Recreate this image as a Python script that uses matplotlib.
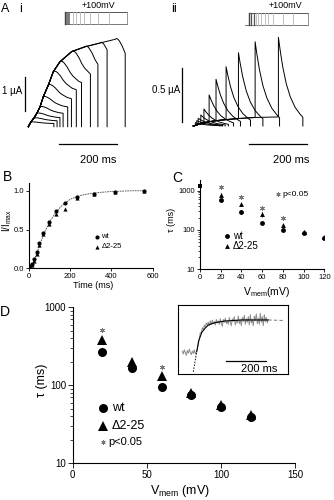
import numpy as np
import matplotlib
matplotlib.use('Agg')
import matplotlib.pyplot as plt
from matplotlib.lines import Line2D

plt.rcParams['font.family'] = ['Liberation Sans', 'DejaVu Sans']
plt.rcParams['mathtext.fontset'] = 'custom'
plt.rcParams['mathtext.rm'] = 'Liberation Sans'
plt.rcParams['mathtext.it'] = 'Liberation Sans:italic'

# ---------------- data ----------------
# A i : current at the end of each +100 mV pulse (ms, uA), tail after the pulse
ai_t_end = [9, 20, 30, 41, 52, 70, 87, 110, 151, 197, 249, 302]
ai_i_end = [0.14, 0.26, 0.40, 0.59, 0.88, 1.23, 1.62, 1.91, 2.21, 2.35, 2.46, 2.57]
ai_tail_len = [80, 80, 80, 80, 85, 80, 80, 75, 65, 45, 25, 35]
tail_dt = [0, 5, 10, 15, 20, 25, 30, 35, 40, 45, 50, 55, 60, 65, 70, 75, 80, 85, 90]
tail_frac = [1.0, 1.01, 1.0, 0.98, 0.95, 0.92, 0.88, 0.84, 0.81, 0.78, 0.76,
             0.74, 0.72, 0.70, 0.69, 0.68, 0.67, 0.66, 0.65]
ai_protocol = [5, 10, 15, 20, 38, 54, 73, 93, 122, 160, 217, 302]

# A ii : slow current during pulse, tail peak and its decay
aii_t_end = [7, 12, 17, 26, 37, 55, 79, 114, 157, 215, 296]
aii_pre = [0.005, 0.01, 0.015, 0.02, 0.03, 0.04, 0.05, 0.06, 0.07, 0.08, 0.085]
aii_peak = [0.031, 0.050, 0.072, 0.103, 0.159, 0.291, 0.438, 0.556, 0.687, 0.790, 0.831]
decay_dt = [0, 6, 15, 27, 41, 58, 75, 85]
decay_frac = [1.0, 0.857, 0.669, 0.481, 0.331, 0.211, 0.135, 0.098]
aii_protocol = [12.5, 25, 35, 46, 58, 80, 96, 121, 168, 221, 296]

# B : normalised activation
b_t = [5, 15, 25, 40, 50, 70, 95, 130, 175, 235, 315, 420, 560]
b_wt = [0.03, 0.06, 0.12, 0.21, 0.32, 0.46, 0.60, 0.74, 0.84, 0.92, 0.96, 0.99, 1.0]
b_del = [0.01, 0.04, 0.09, 0.19, 0.30, 0.44, 0.57, 0.70, 0.76, 0.91, 0.96, 0.99, 1.0]
b_fit_t = [0, 20, 40, 60, 80, 100, 130, 160, 200, 250, 300, 350, 400, 450, 500, 560]
b_fit_y = [0, 0.07, 0.21, 0.36, 0.49, 0.60, 0.72, 0.81, 0.89, 0.94, 0.965, 0.98,
           0.99, 0.995, 1.0, 1.0]

# C : tau vs voltage
c_v = [20, 40, 60, 80, 100, 120]
c_wt = [580, 282, 153, 100, 82, 61]
c_del = [790, 451, 255, 134, 90, 65]
c_wt_err = [40, 20, 12, 8, 6, 4]
c_del_err = [60, 40, 35, 12, 8, 5]
c_sig_v = [20, 40, 60, 80]
c_sig_tau = [1220, 680, 355, 200]
c_zero_v = [0]
c_zero_tau = [1350]

# D : tau vs voltage
d_v = [20, 40, 60, 80, 100, 120]
d_wt = [265, 165, 96, 75, 53, 39]
d_del = [381, 201, 131, 80, 56, 42]
d_wt_err = [30, 15, 8, 8, 5, 3]
d_del_err = [40, 25, 10, 8, 5, 3]
d_sig_v = [20, 60]
d_sig_tau = [512, 173]

# D inset : example trace (normalised) with fit
ins_t = np.arange(23, 454, 5)
ins_trace = [0.33, 0.29, 0.35, 0.31, 0.27, 0.34, 0.30, 0.36, 0.31, 0.28, 0.33, 0.30, 0.35, 0.29, 0.32,
             0.36, 0.47, 0.51, 0.60, 0.60, 0.67, 0.64, 0.71, 0.68, 0.74, 0.71,
             0.75, 0.70, 0.77, 0.72, 0.78, 0.73, 0.76, 0.71, 0.79, 0.74,
             0.77, 0.72, 0.80, 0.74, 0.69, 0.79, 0.75, 0.81, 0.73, 0.77,
             0.72, 0.82, 0.75, 0.70, 0.80, 0.76, 0.83, 0.71, 0.78, 0.74,
             0.84, 0.73, 0.79, 0.70, 0.82, 0.76, 0.85, 0.72, 0.80, 0.75,
             0.83, 0.71, 0.86, 0.74, 0.79, 0.70, 0.84, 0.77, 0.87, 0.73,
             0.81, 0.72, 0.88, 0.75, 0.83, 0.70, 0.86, 0.76, 0.82, 0.74, 0.79]
ins_fit_t = [95, 106.5, 120, 136.5, 153, 186.5, 236.5, 320, 453]
ins_fit_y = [0.323, 0.493, 0.60, 0.662, 0.71, 0.744, 0.768, 0.783, 0.783]
ins_back_t = [78, 86.5, 95]
ins_back_y = [0.033, 0.178, 0.323]
ins_ext_t = [453, 528]
ins_ext_y = [0.783, 0.775]

# ---------------- figure ----------------
W, H = 334, 500
fig = plt.figure(figsize=(W / 100, H / 100), dpi=100)


def rect(x0, y0, x1, y1):
    return [x0 / W, 1 - y1 / H, (x1 - x0) / W, (y1 - y0) / H]


def ftext(x, y, s, **kw):
    kw.setdefault('ha', 'center')
    kw.setdefault('va', 'center')
    fig.text(x / W, 1 - y / H, s, **kw)


def fmark(x, y, **kw):
    fig.add_artist(Line2D([x / W], [1 - y / H], transform=fig.transFigure, ls='none', **kw))


# ---- A i traces
ax = fig.add_axes(rect(20, 35, 135, 130))
ax.axis('off')
ax.set_xlim(-28.9, 371.1)
ax.set_ylim(-0.097, 2.697)
for k in range(len(ai_t_end)):
    te, ie = ai_t_end[k], ai_i_end[k]
    n = tail_dt.index(ai_tail_len[k]) + 1
    xs = [0] + ai_t_end[:k + 1] + [te + d for d in tail_dt[1:n]] + [te + tail_dt[n - 1]]
    ys = [0] + ai_i_end[:k + 1] + [ie * f for f in tail_frac[1:n]] + [0]
    ax.plot(xs, ys, color='black', lw=0.7)
ax.plot([-13.2, -13.2], [0.46, 1.46], color='black', lw=0.9, clip_on=False)
ax.plot([107.8, 307.8], [-0.518, -0.518], color='black', lw=0.9, clip_on=False)

# ---- A i protocol
ax = fig.add_axes(rect(60, 10, 130, 27))
ax.axis('off')
ax.set_xlim(-24.5, 318.2)
ax.set_ylim(-22.5, 119.2)
ax.plot([0, max(ai_protocol)], [100, 100], color='#555555', lw=0.7)
ax.plot([0, max(ai_protocol)], [0, 0], color='#777777', lw=0.7)
ax.plot([0, 0], [0, 100], color='#444444', lw=1.0)
for d in ai_protocol:
    c = '#666666' if d <= 20 else '#b5b5b5'
    if d == max(ai_protocol):
        c = '#888888'
    ax.plot([d, d], [0, 100], color=c, lw=0.6)

# ---- A ii traces
ax = fig.add_axes(rect(185, 30, 310, 130))
ax.axis('off')
ax.set_xlim(-28.9, 405.9)
ax.set_ylim(-0.0375, 0.9)
for k in range(len(aii_t_end)):
    te, pk = aii_t_end[k], aii_peak[k]
    xs = [0] + aii_t_end[:k + 1] + [te + d for d in decay_dt] + [te + decay_dt[-1]]
    ys = [0] + aii_pre[:k + 1] + [pk * f for f in decay_frac] + [0]
    ax.plot(xs, ys, color='black', lw=0.7)
ax.plot([-40.3, -40.3], [0.04, 0.54], color='black', lw=0.9, clip_on=False)
ax.plot([194.8, 394.8], [-0.171, -0.171], color='black', lw=0.9, clip_on=False)

# ---- A ii protocol
ax = fig.add_axes(rect(240, 10, 315, 28))
ax.axis('off')
ax.set_xlim(-44.9, 329.5)
ax.set_ylim(-24.4, 122)
ax.plot([0, max(aii_protocol)], [100, 100], color='#555555', lw=0.7)
ax.plot([-20, max(aii_protocol)], [0, 0], color='#777777', lw=0.7)
ax.plot([0, 0], [0, 100], color='#444444', lw=1.0)
for d in aii_protocol:
    c = '#555555' if d <= 25 else '#b5b5b5'
    if d == max(aii_protocol):
        c = '#888888'
    ax.plot([d, d], [0, 100], color=c, lw=0.9 if d <= 25 else 0.6)

ftext(5, 9, 'A', fontsize=9)
ftext(21, 9, 'i', fontsize=9)
ftext(174.5, 9, 'ii', fontsize=9)
ftext(98, 6, '+100mV', fontsize=6.5)
ftext(285, 6, '+100mV', fontsize=6.5)
ftext(22, 91, '1 µA', fontsize=7, ha='right')
ftext(180, 90, '0.5 µA', fontsize=7, ha='right')
ftext(98, 160, '200 ms', fontsize=8)
ftext(291, 160, '200 ms', fontsize=8)


def style(ax, size, ln):
    for s in ['top', 'right']:
        ax.spines[s].set_visible(False)
    for s in ['left', 'bottom']:
        ax.spines[s].set_linewidth(0.8)
    ax.tick_params(which='major', length=ln, width=0.6, labelsize=size, pad=1.2, direction='out')
    ax.tick_params(which='minor', length=ln * 0.55, width=0.5)


# ---- B
ax = fig.add_axes(rect(29, 183, 152.5, 268.3))
style(ax, 5.5, 2.2)
ax.plot(b_fit_t, b_fit_y, color='#444444', lw=0.6, ls=(0, (2, 1)))
ax.plot(b_t, b_wt, 'o', color='black', ms=3, mew=0)
ax.plot(b_t, b_del, '^', color='black', ms=3, mew=0)
ax.set_xlim(0, 600)
ax.set_ylim(0, 1.1)
ax.set_xticks([0, 200, 400, 600])
ax.set_yticks([0, 0.5, 1.0])
ax.set_yticklabels(['0.0', '0.5', '1.0'])
ftext(8, 177, 'B', fontsize=10)
ftext(7.5, 220, 'I/I$_{\\rm max}$', fontsize=7, rotation=90)
ftext(93, 286, 'Time (ms)', fontsize=6.5)
fmark(96.7, 236.7, marker='o', color='black', ms=3, mew=0)
ftext(101.5, 236.7, 'wt', fontsize=5.5, ha='left')
fmark(96.7, 246.7, marker='^', color='black', ms=3, mew=0)
ftext(101.5, 246.7, 'Δ2-25', fontsize=5.5, ha='left')

# ---- C
ax = fig.add_axes(rect(200, 180, 324.3, 269.3))
style(ax, 5.5, 2.2)
ax.set_yscale('log')
ax.errorbar(c_v, c_wt, yerr=c_wt_err, fmt='o', color='black', ms=3.5, mew=0,
            elinewidth=0.6, capsize=1.2, capthick=0.6)
ax.errorbar(c_v, c_del, yerr=c_del_err, fmt='^', color='black', ms=3.5, mew=0,
            elinewidth=0.6, capsize=1.2, capthick=0.6)
ax.plot(c_zero_v, c_zero_tau, 's', color='black', ms=2.5, mew=0, clip_on=False)
ax.plot(c_sig_v, c_sig_tau, ls='none', marker=(6, 2, 0), color='#777777', ms=3.5, mew=0.6)
ax.set_xlim(0, 120)
ax.set_ylim(10, 1870)
ax.set_xticks([0, 20, 40, 60, 80, 100, 120])
ax.set_yticks([10, 100, 1000])
ax.set_yticklabels(['10', '100', '1000'])
ftext(177, 178, 'C', fontsize=10)
ftext(172, 220, 'τ (ms)', fontsize=6.5, rotation=90)
ftext(266.7, 292, 'V$_{\\rm mem}$(mV)', fontsize=7.5)
fmark(226.7, 236, marker='o', color='black', ms=3.5, mew=0)
ftext(233, 236, 'wt', fontsize=7, ha='left')
fmark(226.7, 246, marker='^', color='black', ms=3.5, mew=0)
ftext(233, 246, 'Δ2-25', fontsize=7, ha='left')
fmark(278.3, 194, marker=(6, 2, 0), color='#777777', ms=3, mew=0.6)
ftext(282, 194, 'p<0.05', fontsize=6, ha='left')

# ---- D
ax = fig.add_axes(rect(72.7, 307.3, 295, 463.3))
style(ax, 7, 3.5)
ax.set_yscale('log')
ax.errorbar(d_v, d_wt, yerr=d_wt_err, fmt='o', color='black', ms=6.5, mew=0,
            elinewidth=0.8, capsize=2.5, capthick=0.8)
ax.errorbar(d_v, d_del, yerr=d_del_err, fmt='^', color='black', ms=6.5, mew=0,
            elinewidth=0.8, capsize=2.5, capthick=0.8)
ax.plot(d_sig_v, d_sig_tau, ls='none', marker=(6, 2, 0), color='#777777', ms=3.5, mew=0.6)
ax.set_xlim(0, 150)
ax.set_ylim(10, 1000)
ax.set_xticks([0, 50, 100, 150])
ax.set_yticks([10, 100, 1000])
ax.set_yticklabels(['10', '100', '1000'])
ftext(5, 312, 'D', fontsize=10)
ftext(42, 380, 'τ (ms)', fontsize=9, rotation=90)
ftext(180, 491, 'V$_{\\rm mem}$ (mV)', fontsize=9)
fmark(102.7, 408.3, marker='o', color='black', ms=6.5, mew=0)
ftext(111.7, 408.3, 'wt', fontsize=9, ha='left')
fmark(102.7, 426, marker='^', color='black', ms=6.5, mew=0)
ftext(111.7, 426, 'Δ2-25', fontsize=9, ha='left')
fmark(102.7, 441.7, marker=(6, 2, 0), color='#777777', ms=3, mew=0.6)
ftext(108, 441.7, 'p<0.05', fontsize=8, ha='left')

# ---- D inset
ax = fig.add_axes(rect(177.7, 305, 288.3, 374))
ax.set_xticks([])
ax.set_yticks([])
for s in ax.spines.values():
    s.set_linewidth(0.8)
ax.set_xlim(0, 553)
ax.set_ylim(0, 1)
ax.plot(ins_t, ins_trace, color='#8c8c8c', lw=0.7)
ax.plot(ins_fit_t, ins_fit_y, color='black', lw=0.8)
ax.plot(ins_back_t, ins_back_y, color='black', lw=0.7, ls=(0, (1.5, 1.5)))
ax.plot(ins_ext_t, ins_ext_y, color='#888888', lw=0.8, ls=(0, (3, 2)))
ax.plot([240, 440], [0.188, 0.188], color='black', lw=0.9)
ax.text(406, 0.075, '200 ms', fontsize=8, ha='center', va='center')

fig.savefig('out.png', dpi=100)
